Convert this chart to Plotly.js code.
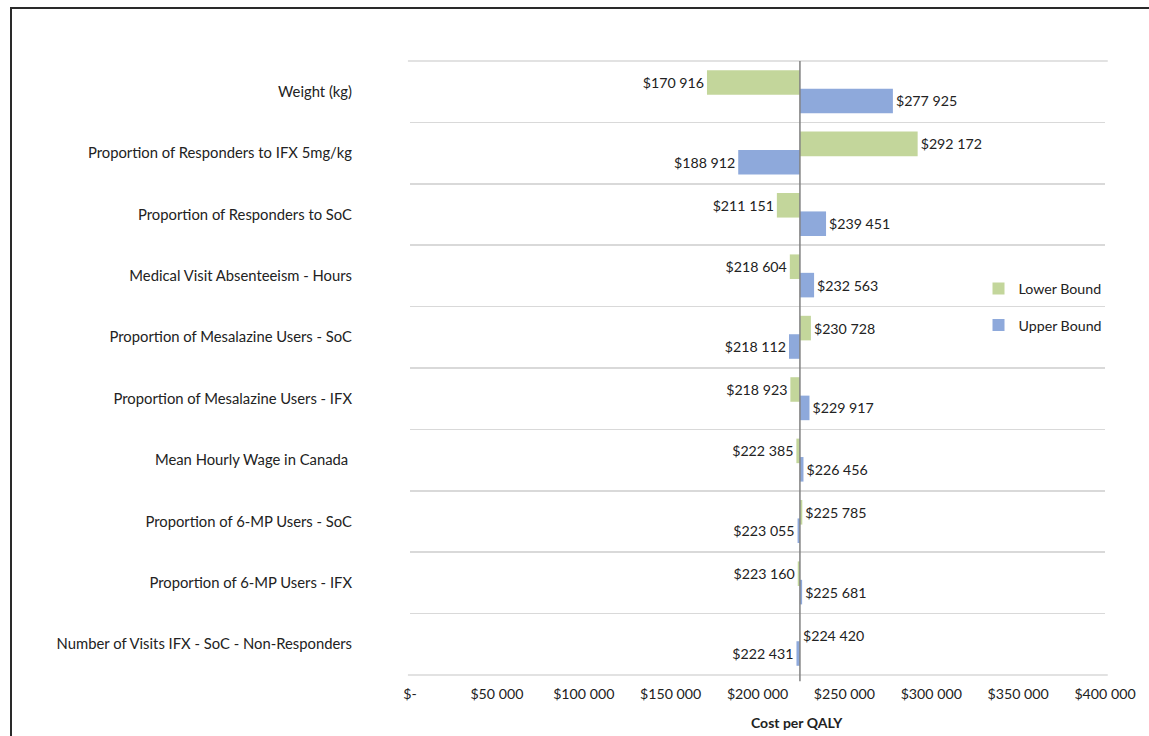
<!DOCTYPE html>
<html>
<head>
<meta charset="utf-8">
<script src="https://cdn.plot.ly/plotly-3.0.1.min.js"></script>
<style>
  html, body { margin: 0; padding: 0; background: #fff; overflow: hidden; }
  #chart { width: 1149px; height: 736px; }
  #frame { position: absolute; left: 10px; top: 7px; width: 3000px; height: 3000px;
           border-left: 2px solid #2a2a2a; border-top: 2px solid #2a2a2a; pointer-events: none; }
</style>
</head>
<body>
<div id="chart"></div>
<div id="frame"></div>
<script>
const categories = [
  "Weight (kg)",
  "Proportion of Responders to IFX 5mg/kg",
  "Proportion of Responders to SoC",
  "Medical Visit Absenteeism - Hours",
  "Proportion of Mesalazine Users - SoC",
  "Proportion of Mesalazine Users - IFX",
  "Mean Hourly Wage in Canada ",
  "Proportion of 6-MP Users - SoC",
  "Proportion of 6-MP Users - IFX",
  "Number of Visits IFX - SoC - Non-Responders"
];
const lowerBound = [170916, 292172, 211151, 218604, 230728, 218923, 222385, 225785, 223160, 224420];
const upperBound = [277925, 188912, 239451, 232563, 218112, 229917, 226456, 223055, 225681, 222431];
const baseCase = 224420;
const tickValues = [0, 50000, 100000, 150000, 200000, 250000, 300000, 350000, 400000];
const tickLabels = ["$-", "$50 000", "$100 000", "$150 000", "$200 000", "$250 000", "$300 000", "$350 000", "$400 000"];
const seriesNames = ["Lower Bound", "Upper Bound"];

const fmt = v => "$" + String(v).replace(/\B(?=(\d{3})+(?!\d))/g, " ");
const FONT = "Lato, 'Open Sans', sans-serif";
const TXT = "#222222";
const GRID = "#d9d9d9";

function barTrace(values, name, color, offset, group) {
  return {
    type: "bar",
    orientation: "h",
    name: name,
    legendgroup: group,
    y: categories,
    x: values.map(v => v - baseCase),
    base: baseCase,
    text: values.map(fmt),
    textposition: "outside",
    cliponaxis: false,
    constraintext: "none",
    textfont: { family: FONT, size: 14.2, color: TXT },
    offset: offset,
    width: 0.4,
    marker: { color: color, line: { width: 0 } },
    hoverinfo: "skip"
  };
}

const data = [
  barTrace(lowerBound, seriesNames[0], "#C3D69B", -0.35, "a"),
  barTrace(upperBound, seriesNames[1], "#8EA9DB", -0.05, "b")
];

const layout = {
  width: 1149,
  height: 736,
  margin: { l: 410, r: 44, t: 61, b: 61, pad: 0 },
  paper_bgcolor: "#ffffff",
  plot_bgcolor: "#ffffff",
  barmode: "overlay",
  font: { family: FONT, size: 14, color: TXT },
  showlegend: true,
  legend: {
    x: 0.818, xanchor: "left", y: 0.655, yanchor: "top",
    bgcolor: "rgba(0,0,0,0)",
    font: { family: FONT, size: 14.2, color: TXT },
    traceorder: "grouped",
    tracegroupgap: 15,
    itemwidth: 30
  },
  xaxis: {
    range: [0, 400000],
    tickmode: "array",
    tickvals: tickValues,
    ticktext: tickLabels,
    showgrid: false,
    zeroline: false,
    showline: false,
    ticks: "",
    ticklabelstandoff: 9,
    tickfont: { family: FONT, size: 14.2, color: TXT },
    fixedrange: true
  },
  yaxis: {
    type: "category",
    categoryorder: "array",
    categoryarray: categories,
    range: [categories.length - 0.5, -0.5],
    tickson: "boundaries",
    showgrid: true,
    gridcolor: GRID,
    gridwidth: 1.5,
    zeroline: false,
    showline: false,
    ticks: "",
    ticklabelstandoff: 57,
    tickfont: { family: FONT, size: 14.8, color: TXT },
    fixedrange: true
  },
  shapes: [
    { type: "line", xref: "paper", yref: "paper", x0: -0.003, x1: 1.004, y0: 1, y1: 1,
      line: { color: GRID, width: 1.5 }, layer: "below" },
    { type: "line", xref: "paper", yref: "paper", x0: -0.003, x1: 1.004, y0: 0, y1: 0,
      line: { color: GRID, width: 1.5 }, layer: "below" },
    { type: "line", xref: "x", yref: "paper",
      x0: baseCase, x1: baseCase, y0: -0.01, y1: 1,
      line: { color: "#808080", width: 1.5 } }
  ],
  annotations: [{
    text: "<b>Cost per QALY</b>",
    xref: "paper", yref: "paper",
    x: 0.557, y: -0.078, xanchor: "center", yanchor: "middle",
    showarrow: false,
    font: { family: FONT, size: 14, color: TXT }
  }]
};

Plotly.newPlot("chart", data, layout, { displayModeBar: false, staticPlot: true });
</script>
</body>
</html>
